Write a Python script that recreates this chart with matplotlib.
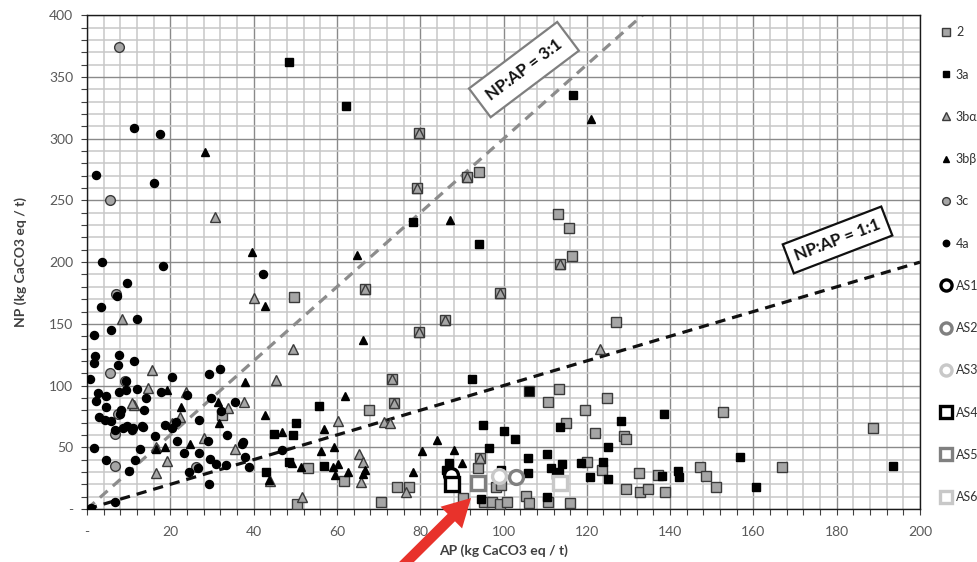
import numpy as np
import matplotlib
matplotlib.use("Agg")
import matplotlib.pyplot as plt
from matplotlib.ticker import MultipleLocator, FuncFormatter

plt.rcParams['font.family'] = ['Lato', 'DejaVu Sans']

# data (AP, NP)
s2_ap = [49.6, 53.1, 50.4, 32.5, 94.1, 113.2, 115.7, 116.5, 126.9, 67.6, 106.0, 113.3,
         110.7, 124.8, 119.5, 114.9, 122.0, 129.0, 129.5, 61.8, 70.6, 74.4, 77.4, 93.8,
         98.2, 99.4, 90.2, 95.4, 97.3, 99.2, 100.9, 105.5, 106.1, 110.7, 116.0, 120.1,
         123.7, 129.5, 132.5, 132.7, 134.7, 137.0, 152.6, 188.8, 166.8, 147.1, 148.6,
         151.1, 138.7, 79.8, 79.2, 91.2, 66.8, 99.2, 85.9, 79.6, 73.2, 73.8, 113.6, 94.4]
s2_np = [171.4, 33.0, 3.8, 76.0, 273.0, 239.0, 227.5, 204.9, 151.7, 80.2, 95.5, 96.9,
         86.9, 89.6, 80.2, 69.9, 61.8, 59.4, 57.0, 23.0, 5.4, 17.6, 18.0, 33.0,
         18.0, 19.4, 8.7, 5.9, 5.9, 4.0, 5.9, 10.5, 5.1, 5.4, 4.6, 38.3,
         31.6, 16.0, 28.9, 13.5, 16.0, 27.5, 78.8, 65.6, 34.3, 33.8, 26.5,
         17.6, 14.0, 305.0, 260.0, 269.0, 178.0, 175.0, 153.0, 143.6, 105.0, 86.0, 198.4, 41.0]

s3a_ap = [48.4, 62.2, 116.7, 78.2, 94.1, 45.0, 49.5, 50.2, 55.6, 57.0, 43.0, 48.6, 92.5,
          106.0, 95.0, 100.2, 102.7, 96.5, 113.5, 128.3, 125.1, 86.8, 86.2, 99.4, 94.6,
          110.4, 105.8, 105.8, 110.4, 111.3, 113.3, 114.1, 112.7, 118.7, 120.7, 123.9,
          125.2, 138.6, 156.7, 193.6, 141.8, 138.1, 142.1, 160.6]
s3a_np = [362.0, 326.3, 335.8, 232.6, 215.0, 60.7, 60.0, 70.0, 83.6, 34.8, 29.7, 38.3, 105.0,
          95.5, 68.0, 63.4, 56.7, 49.6, 66.1, 71.2, 50.4, 37.5, 31.6, 31.6, 8.1,
          10.0, 41.0, 28.9, 44.5, 33.0, 30.2, 36.4, 27.5, 37.0, 25.7, 38.3,
          24.0, 76.9, 41.9, 34.8, 31.0, 26.7, 25.7, 18.0]

s3ba_ap = [8.3, 15.7, 14.7, 11.3, 10.8, 40.1, 30.8, 22.4, 23.7, 20.3, 33.9, 37.6, 28.1,
           35.6, 16.5, 19.1, 16.6, 45.4, 49.4, 43.9, 51.6, 60.2, 71.4, 72.8, 65.2, 66.2,
           65.8, 76.6, 94.4, 123.1, 79.8, 79.2, 91.2, 66.8, 99.2, 85.9, 79.6, 73.2, 73.8, 113.6]
s3ba_np = [153.6, 113.0, 97.7, 84.2, 86.0, 170.6, 236.7, 74.7, 95.0, 69.6, 82.0, 86.4, 57.7,
           48.3, 50.5, 39.1, 29.4, 104.5, 130.0, 23.0, 9.5, 71.5, 70.7, 69.4, 44.5, 38.3,
           21.6, 13.5, 41.0, 130.0, 305.0, 260.0, 269.0, 178.0, 175.0, 153.0, 143.6, 105.0, 86.0, 198.4]

s3bb_ap = [28.4, 39.7, 42.7, 38.0, 22.5, 31.5, 31.7, 19.3, 18.8, 16.6, 24.7, 42.7, 46.8,
           57.0, 56.2, 59.4, 49.2, 51.4, 59.1, 60.2, 59.6, 43.8, 62.6, 66.8, 66.2, 62.0,
           66.3, 64.7, 87.2, 120.9, 78.2, 80.4, 84.0, 88.2, 90.0]
s3bb_np = [289.5, 207.9, 164.4, 102.8, 82.5, 86.4, 69.9, 96.4, 50.0, 48.3, 52.4, 76.0, 62.6,
           64.5, 47.2, 50.4, 37.5, 34.3, 33.8, 36.4, 27.5, 23.5, 30.2, 32.0, 28.0, 91.7,
           136.8, 205.4, 234.0, 315.8, 29.7, 47.0, 55.9, 47.8, 37.0]

s3c_ap = [7.7, 5.5, 6.9, 5.6, 7.5, 6.7, 6.6, 9.1, 26.2]
s3c_np = [374.5, 250.0, 174.0, 110.0, 77.0, 60.5, 35.0, 103.6, 34.3]

s4a_ap = [2.2, 11.3, 17.5, 16.1, 3.5, 18.3, 42.2, 9.5, 7.3, 3.4, 12.1, 5.8, 1.7, 1.9, 7.7,
          1.7, 7.4, 11.3, 0.7, 9.4, 20.5, 29.3, 32.0, 2.6, 4.5, 2.2, 4.6, 14.1, 13.7, 8.2,
          7.8, 2.8, 4.3, 5.7, 6.6, 8.7, 9.5, 10.7, 13.4, 18.7, 20.5, 21.4, 26.9, 16.4, 29.7,
          32.1, 35.5, 33.6, 29.1, 37.4, 37.9, 38.9, 1.7, 4.6, 10.1, 11.5, 12.7, 21.7, 23.3,
          26.8, 24.4, 26.7, 29.5, 30.9, 33.3, 29.4, 6.7, 0.9, 9.3, 7.7, 11.9, 17.7, 24.0,
          11.1, 13.3, 46.8, 37.3]
s4a_np = [270.4, 308.5, 304.0, 264.0, 200.0, 196.8, 190.0, 183.0, 172.5, 164.0, 154.0, 145.0,
          140.6, 124.0, 125.0, 118.5, 116.6, 119.6, 105.0, 104.0, 107.0, 109.0, 113.6, 93.7,
          91.5, 87.7, 82.6, 89.6, 80.0, 80.4, 77.0, 74.3, 72.0, 71.3, 64.0, 65.8, 67.5, 64.2,
          66.7, 68.0, 65.3, 70.2, 72.0, 59.3, 89.6, 79.6, 86.4, 59.7, 55.0, 54.5, 41.9, 34.3,
          49.6, 39.7, 30.5, 39.7, 48.6, 55.0, 45.1, 45.1, 29.7, 33.0, 40.5, 36.2, 35.6, 20.0,
          5.4, 1.0, 96.4, 95.0, 97.4, 95.0, 92.3, 65.6, 67.0, 47.8, 52.6]

as_labels = ['AS1', 'AS2', 'AS3', 'AS4', 'AS5', 'AS6']
as_ap = [87.4, 103.0, 99.0, 87.7, 93.8, 113.5]
as_np = [27.5, 26.2, 26.7, 20.2, 20.8, 20.8]

ratios = [3, 1]
ratio_labels = ['NP:AP = 3:1', 'NP:AP = 1:1']

fig = plt.figure(figsize=(9.78, 5.62), dpi=100)
ax = fig.add_axes([0.089, 0.0943, 0.8517, 0.8785])

ax.set_xlim(0, 200)
ax.set_ylim(0, 400)
ax.xaxis.set_major_locator(MultipleLocator(20))
ax.xaxis.set_minor_locator(MultipleLocator(4))
ax.yaxis.set_major_locator(MultipleLocator(50))
ax.yaxis.set_minor_locator(MultipleLocator(10))
fmt = FuncFormatter(lambda v, p: '-' if v == 0 else f'{v:.0f}')
ax.xaxis.set_major_formatter(fmt)
ax.yaxis.set_major_formatter(fmt)
ax.grid(which='minor', color='#c8c8c8', lw=1.1, zorder=0)
ax.grid(which='major', color='#8a8a8a', lw=1.0, zorder=0)
ax.set_axisbelow(True)
ax.tick_params(which='both', direction='out', colors='#404040', labelcolor='#595959',
               labelsize=10, length=4, width=0.8)
ax.tick_params(axis='x', pad=8)
ax.tick_params(axis='y', pad=6)
for sp in ax.spines.values():
    sp.set_color('#1a1a1a')
    sp.set_linewidth(1.0)

ax.set_xlabel('AP (kg CaCO3 eq / t)', fontsize=10, fontweight='bold', color='#404040', labelpad=5)
ax.set_ylabel('NP (kg CaCO3 eq / t)', fontsize=10, fontweight='bold', color='#404040', labelpad=16)

# ratio lines
xs = np.array([0, 200])
ax.plot(xs, ratios[0] * xs, ls=(0, (3.2, 2.2)), color='#8c8c8c', lw=2.3, zorder=2)
ax.plot(xs, ratios[1] * xs, ls=(0, (3.2, 2.2)), color='#111111', lw=2.3, zorder=2)

ax.text(104.9, 356, ratio_labels[0], rotation=37, ha='center', va='center', fontsize=12,
        fontweight='bold', color='#111111', zorder=5,
        bbox=dict(boxstyle='square,pad=0.6', fc='white', ec='#7f7f7f', lw=1.6))
ax.text(180.2, 218, ratio_labels[1], rotation=21, ha='center', va='center', fontsize=12,
        fontweight='bold', color='#111111', zorder=5,
        bbox=dict(boxstyle='square,pad=0.45', fc='white', ec='#111111', lw=1.6))

ax.plot(s2_ap, s2_np, 's', ms=6.5, mfc='#a6a6a6', mec='#3a3a3a', mew=1.0, ls='none', label='2', zorder=3)
ax.plot(s3a_ap, s3a_np, 's', ms=5.8, mfc='black', mec='black', ls='none', label='3a', zorder=3)
ax.plot(s3ba_ap, s3ba_np, '^', ms=7.5, mfc='#a6a6a6', mec='#3a3a3a', mew=1.0, ls='none', label='3b\u03b1', zorder=3)
ax.plot(s3bb_ap, s3bb_np, '^', ms=6.0, mfc='black', mec='black', ls='none', label='3b\u03b2', zorder=3)
ax.plot(s3c_ap, s3c_np, 'o', ms=7.0, mfc='#a6a6a6', mec='#3a3a3a', mew=1.0, ls='none', label='3c', zorder=3)
ax.plot(s4a_ap, s4a_np, 'o', ms=5.8, mfc='black', mec='black', ls='none', label='4a', zorder=3)

as_markers = ['o', 'o', 'o', 's', 's', 's']
as_colors = ['black', '#808080', '#c8c8c8', 'black', '#808080', '#c8c8c8']
for lab, x, y, m, c in zip(as_labels, as_ap, as_np, as_markers, as_colors):
    ax.plot([x], [y], m, ms=10, mfc='white', mec=c, mew=2.4, ls='none', label=lab, zorder=4)

handles, labels = ax.get_legend_handles_labels()
leg = fig.legend(handles, labels, loc='upper left', bbox_to_anchor=(0.957, 0.962),
                 frameon=False, fontsize=9, labelspacing=2.42, handlelength=0.8,
                 handletextpad=0.4, borderaxespad=0, markerscale=0.8)
for t in leg.get_texts():
    t.set_color('#333333')

# red arrow pointing at the AS samples
ax.annotate('', xy=(92.2, 8.9), xytext=(74.0, -52.0), xycoords='data', textcoords='data',
            annotation_clip=False,
            arrowprops=dict(facecolor='#e8322b', edgecolor='none', width=7.5,
                            headwidth=22, headlength=20, shrink=0), zorder=6)

fig.savefig('out.png', dpi=100)
